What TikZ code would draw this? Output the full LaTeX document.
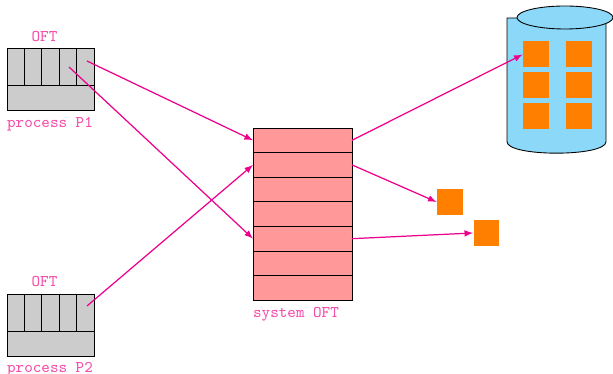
\documentclass[tikz,border=0pt]{standalone}
\usetikzlibrary{shapes.geometric, positioning}
\definecolor{linkpink}{RGB}{236,0,140}
\definecolor{textpink}{RGB}{244,80,170}
\definecolor{oftgray}{RGB}{204,204,204}
\definecolor{sysred}{RGB}{255,153,153}
\definecolor{diskblue}{RGB}{140,216,248}
\definecolor{blockorange}{RGB}{255,128,0}
\tikzset{
	% grey table of a process
	oftbox/.style={rectangle, draw=black, fill=oftgray, line width=0.5pt, inner sep=0pt, minimum width=1.74cm, minimum height=1.24cm},
	% row of the system table
	syscell/.style={rectangle, draw=black, fill=sysred, line width=0.5pt, inner sep=0pt, outer sep=0pt, minimum width=1.98cm, minimum height=0.492cm},
	% file blocks
	block/.style={rectangle, fill=blockorange, inner sep=0pt, minimum size=0.52cm},
	lbl/.style={text=textpink, font=\fontsize{9.3}{10}\ttfamily, inner sep=0pt},
	link/.style={-latex, linkpink, line width=0.7pt}
}
\begin{document}
\begin{tikzpicture}[x=0.02cm, y=-0.02cm]
	\useasboundingbox (0,0) rectangle (613,374);

	% process P1
	\node[oftbox] (oft1) at (50.5,79) {};
	\draw[line width=0.5pt] (7,85)--(94,85);
	\foreach \x in {24,41,59,76}
		\draw[line width=0.5pt] (\x,48)--(\x,85);
	\node[lbl] (oft1title) at (44.5,37) {OFT};
	\node[lbl] (oft1name) at (50,124.5) {process P1};

	% process P2
	\node[oftbox] (oft2) at (50.5,325) {};
	\draw[line width=0.5pt] (7,331)--(94,331);
	\foreach \x in {24,41,59,76}
		\draw[line width=0.5pt] (\x,294)--(\x,331);
	\node[lbl] (oft2title) at (44.5,282) {OFT};
	\node[lbl] (oft2name) at (50,369) {process P2};

	% system OFT
	\node[syscell] (sys1) at (302.5,140.3) {};
	\foreach \i [remember=\i as \j (initially 1)] in {2,...,7}
		\node[syscell, below=0pt of sys\j] (sys\i) {};
	\node[lbl] (sysname) at (296,314.5) {system OFT};

	% disk
	\draw[fill=diskblue, line width=0.5pt] (606,18)--(507,18)--(507,141.7)
		.. controls (507,157) and (606,157) .. (606,141.7)--cycle;
	\node[ellipse, draw=black, fill=diskblue, line width=0.5pt, inner sep=0pt, minimum width=1.92cm, minimum height=0.46cm] (disktop) at (565,17.5) {};
	\node[block] (d1) at (536,54.5) {};
	\node[block] (d2) at (579,54.5) {};
	\node[block] (d3) at (536,85.5) {};
	\node[block] (d4) at (579,85.5) {};
	\node[block] (d5) at (536,116) {};
	\node[block] (d6) at (579,116) {};

	% loose blocks
	\node[block] (b1) at (450,202) {};
	\node[block] (b2) at (486.5,233) {};

	% arrows
	\coordinate (p1a) at (87,61);
	\coordinate (p1b) at (69,67);
	\coordinate (p2a) at (87,306);
	\draw[link] (p1a)--(sys1.west);
	\draw[link] (p1b)--(sys5.west);
	\draw[link] (p2a)--(sys2.west);
	\draw[link] (sys1.east)--(d1.west);
	\draw[link] (sys2.east)--(b1.west);
	\draw[link] (sys5.east)--(b2.west);
\end{tikzpicture}
\end{document}
